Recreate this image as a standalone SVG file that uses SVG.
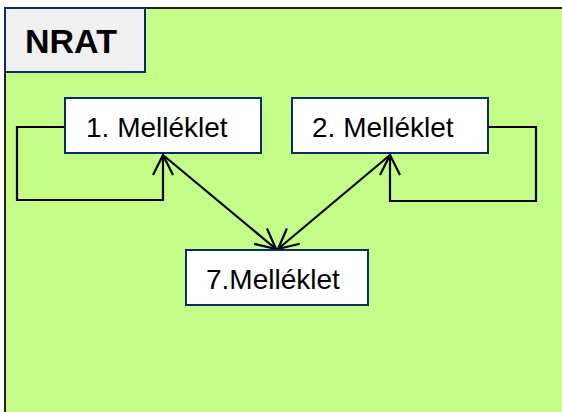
<svg xmlns="http://www.w3.org/2000/svg" width="562" height="412" viewBox="0 0 562 412">
<style>
.box{fill:#ffffff;stroke:#0c2a68;stroke-width:2}
.lbl{font-family:"Liberation Sans",Arial,sans-serif;font-size:28px;fill:#000}
.conn{fill:none;stroke:#000;stroke-width:2.2}
</style>
<defs>
<marker id="arr" markerUnits="userSpaceOnUse" viewBox="-22 -12 24 24" refX="0" refY="0" markerWidth="24" markerHeight="24" orient="auto">
<path d="M-20,-10 L0,0 L-20,10" fill="none" stroke="#000" stroke-width="2.2"/>
</marker>
</defs>
<g id="frame">
<rect x="5" y="8" width="570" height="420" fill="#c3fd88" stroke="#222" stroke-width="2"/>
</g>
<g id="nrat">
<rect x="5" y="8" width="140" height="64" fill="#f0f0f0" stroke="#0c2a68" stroke-width="2"/>
<text x="25" y="53" font-family="Liberation Sans,Arial,sans-serif" font-size="34" font-weight="bold">NRAT</text>
</g>
<g id="connectors">
<path class="conn" d="M65,127 H17 V200 H163 V155" marker-end="url(#arr)"/>
<path class="conn" d="M488,127 H536 V201 H390 V155" marker-end="url(#arr)"/>
<path class="conn" d="M163,155 L276,249" marker-end="url(#arr)"/>
<path class="conn" d="M390,155 L278,249" marker-end="url(#arr)"/>
</g>
<g id="m1">
<rect class="box" x="65" y="98" width="196" height="55"/>
<text class="lbl" x="86" y="137">1. Melléklet</text>
</g>
<g id="m2">
<rect class="box" x="292" y="98" width="196" height="55"/>
<text class="lbl" x="312" y="137">2. Melléklet</text>
</g>
<g id="m7">
<rect class="box" x="186" y="250" width="182" height="55"/>
<text class="lbl" x="206" y="289">7.Melléklet</text>
</g>
</svg>
